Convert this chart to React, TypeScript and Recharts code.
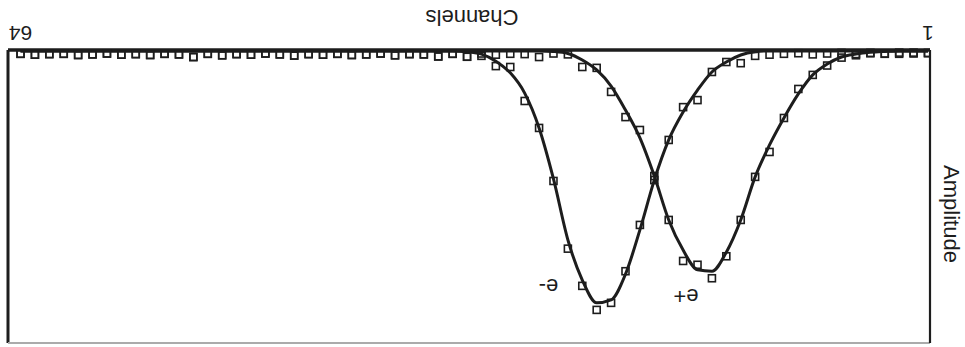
import { ComposedChart, Line, XAxis, YAxis, ReferenceLine, ReferenceDot, Label } from 'recharts';

// Detector channels along the x axis
const channels = [
  1, 2, 3, 4, 5, 6, 7, 8, 9, 10, 11, 12, 13, 14, 15, 16,
  17, 18, 19, 20, 21, 22, 23, 24, 25, 26, 27, 28, 29, 30, 31, 32,
  33, 34, 35, 36, 37, 38, 39, 40, 41, 42, 43, 44, 45, 46, 47, 48,
  49, 50, 51, 52, 53, 54, 55, 56, 57, 58, 59, 60, 61, 62, 63, 64,
];
const channelTicks = [1, 64];

// Fitted pulse shapes (amplitude, arbitrary units)
const eMinusFit = [
  0.3, 0.3, 0.3, 0.3, 0.3, 0.3, 0.3, 0.3, 0.3, 0.3, 0.3, 0.3,
  0.6, 1.7, 4.1, 7.5, 13.7, 21.2, 30.7, 44.4, 61.4, 76.5, 85.3, 86.3,
  78.5, 64.8, 44.0, 26.6, 14.7, 7.8, 3.8, 1.4, 0.6,
  0.3, 0.3, 0.3, 0.3, 0.3, 0.3, 0.3, 0.3, 0.3, 0.3, 0.3, 0.3, 0.3, 0.3, 0.3, 0.3,
  0.3, 0.3, 0.3, 0.3, 0.3, 0.3, 0.3, 0.3, 0.3, 0.3, 0.3, 0.3, 0.3, 0.3, 0.3,
];
const ePlusFit = [
  0.3, 0.3, 0.3, 0.5, 0.8, 1.4, 2.4, 4.8, 8.5, 15.0, 23.2, 32.4,
  43.3, 58.0, 69.0, 75.5, 75.0, 68.3, 58.0, 43.0, 30.0, 20.5, 12.3, 6.8,
  3.4, 1.2, 0.5,
  0.3, 0.3, 0.3, 0.3, 0.3, 0.3, 0.3, 0.3, 0.3, 0.3, 0.3, 0.3, 0.3, 0.3, 0.3, 0.3,
  0.3, 0.3, 0.3, 0.3, 0.3, 0.3, 0.3, 0.3, 0.3, 0.3, 0.3, 0.3, 0.3, 0.3, 0.3, 0.3,
  0.3, 0.3, 0.3, 0.3, 0.3, 0.3,
];

// Measured samples per channel
const eMinusData = [
  1.0, 1.2, 0.9, 1.3, 1.1, 1.4, 1.0, 1.2, 1.5, 1.1, 1.3, 1.6, 2.0,
  4.5, 4.1, 7.5, 17.1, 19.5, 30.7, 44.4, 59.7, 75.5, 86.3, 88.7,
  80.5, 67.8, 44.7, 26.6, 17.4, 5.8, 5.5, 2.0,
  2.3, 1.3, 2.2, 1.5, 1.4, 1.8, 1.2, 1.5, 1.7, 1.3, 1.6, 1.4, 1.9, 1.5, 1.2, 1.6,
  1.4, 1.8, 1.3, 2.4, 1.5, 1.3, 1.7, 1.4, 1.6, 1.2, 1.5, 1.7, 1.3, 1.4, 1.6, 1.3,
];
const ePlusData = [
  1.1, 0.9, 1.3, 1.2, 1.0, 1.8, 2.6,
  5.3, 8.5, 13.3, 23.2, 34.8, 43.3, 58.0, 70.4, 77.9, 73.3, 72.0, 58.0,
  43.0, 27.3, 22.9, 14.3, 6.1, 5.8, 1.5,
  1.2, 2.4, 1.4, 1.3, 1.6, 1.2,
  2.3, 1.3, 2.2, 1.5, 1.4, 1.8, 1.2, 1.5, 1.7, 1.3, 1.6, 1.4, 1.9, 1.5, 1.2, 1.6,
  1.4, 1.8, 1.3, 2.4, 1.5, 1.3, 1.7, 1.4, 1.6, 1.2, 1.5, 1.7, 1.3, 1.4, 1.6, 1.3,
];

const FONT = '"Liberation Sans", Arial, Helvetica, sans-serif';
const INK = '#1d1d1d';
const X_DOMAIN: [number, number] = [0.86, 64.87];

const chartData = channels.map((channel, i) => ({
  channel,
  eMinusFit: eMinusFit[i],
  ePlusFit: ePlusFit[i],
  eMinusData: eMinusData[i],
  ePlusData: ePlusData[i],
}));

// hollow square marker for the measured points
const SquareMarker = (props: any) => {
  const { cx, cy, index } = props;
  if (cx == null || cy == null) return <g key={`sq-${index}`} />;
  return (
    <rect
      key={`sq-${index}`}
      x={cx - 3.5}
      y={cy - 3.5}
      width={7}
      height={7}
      fill="none"
      stroke={INK}
      strokeWidth={1.6}
    />
  );
};

const ChannelTick = (props: any) => {
  const { x, y, payload } = props;
  return (
    <text x={x} y={y + 16} textAnchor="middle" fontSize={21} fill={INK} fontFamily={FONT}>
      {payload.value}
    </text>
  );
};

const ChannelsTitle = (props: any) => {
  const { viewBox } = props;
  return (
    <text
      x={viewBox.x + viewBox.width / 2 - 3}
      y={viewBox.y + 40}
      textAnchor="middle"
      fontSize={22}
      fill={INK}
      fontFamily={FONT}
    >
      Channels
    </text>
  );
};

const AmplitudeTitle = (props: any) => {
  const { viewBox } = props;
  const cx = viewBox.x + 21;
  const cy = viewBox.y + 129;
  return (
    <text
      x={cx}
      y={cy}
      transform={`rotate(-90, ${cx}, ${cy})`}
      textAnchor="middle"
      fontSize={22}
      fill={INK}
      fontFamily={FONT}
    >
      Amplitude
    </text>
  );
};

const App = () => {
  return (
    <div
      style={{
        position: 'absolute',
        left: 0,
        top: 0,
        width: 965,
        height: 347,
        background: '#fff',
        transform: 'rotate(180deg)',
      }}
    >
      <ComposedChart
        width={965}
        height={347}
        data={chartData}
        margin={{ top: 4, right: 8, bottom: 0, left: 0 }}
      >
        <XAxis
          dataKey="channel"
          type="number"
          domain={X_DOMAIN}
          allowDataOverflow
          ticks={channelTicks}
          interval={0}
          height={50}
          tickLine={false}
          tickSize={6}
          tickMargin={2}
          tick={<ChannelTick />}
          axisLine={{ stroke: INK, strokeWidth: 3.5 }}
        >
          <Label content={<ChannelsTitle />} />
        </XAxis>
        <YAxis
          type="number"
          domain={[0, 100]}
          width={35}
          tick={false}
          tickLine={false}
          axisLine={{ stroke: INK, strokeWidth: 2.2 }}
        >
          <Label content={<AmplitudeTitle />} />
        </YAxis>

        {/* remaining frame edges */}
        <ReferenceLine x={X_DOMAIN[1]} stroke={INK} strokeWidth={3} />
        <ReferenceLine y={100} stroke="#ababab" strokeWidth={2} />

        <Line
          type="monotone"
          dataKey="eMinusFit"
          stroke={INK}
          strokeWidth={3}
          dot={false}
          activeDot={false}
          isAnimationActive={false}
        />
        <Line
          type="monotone"
          dataKey="ePlusFit"
          stroke={INK}
          strokeWidth={3}
          dot={false}
          activeDot={false}
          isAnimationActive={false}
        />
        <Line
          dataKey="eMinusData"
          stroke="none"
          strokeWidth={0}
          dot={SquareMarker}
          activeDot={false}
          isAnimationActive={false}
        />
        <Line
          dataKey="ePlusData"
          stroke="none"
          strokeWidth={0}
          dot={SquareMarker}
          activeDot={false}
          isAnimationActive={false}
        />

        <ReferenceDot
          x={27.35}
          y={80.7}
          r={0}
          fill="none"
          stroke="none"
          label={{ value: 'e-', position: 'center', fontSize: 22, fill: INK, fontFamily: FONT }}
        />
        <ReferenceDot
          x={17.8}
          y={84.1}
          r={0}
          fill="none"
          stroke="none"
          label={{ value: 'e+', position: 'center', fontSize: 22, fill: INK, fontFamily: FONT }}
        />
      </ComposedChart>
    </div>
  );
};

export default App;
